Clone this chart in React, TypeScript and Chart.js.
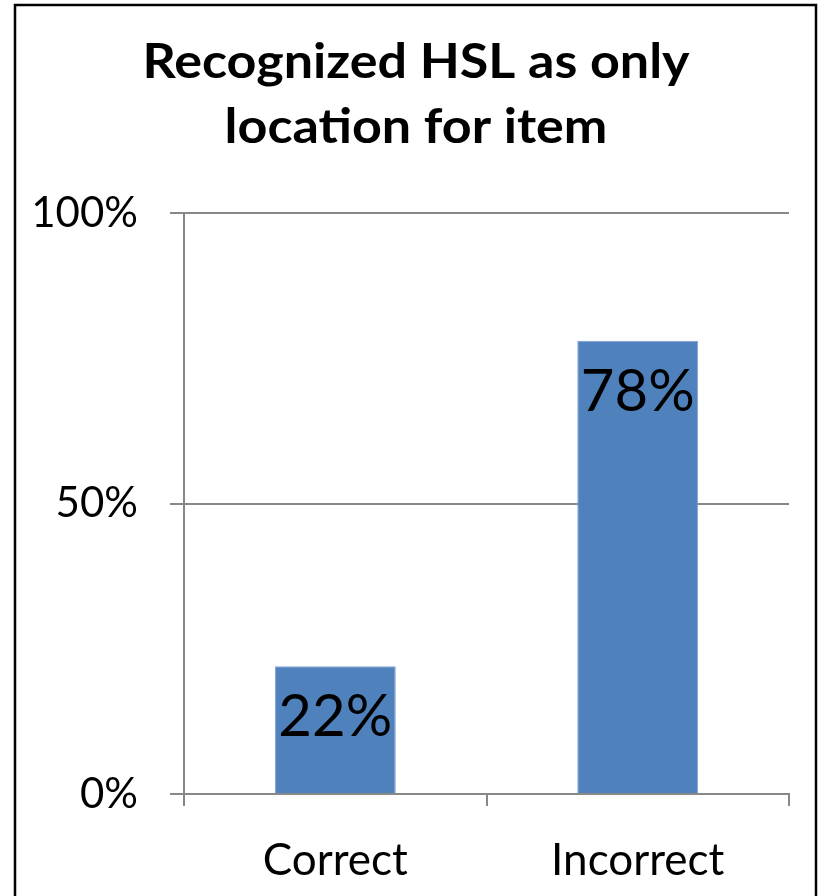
import React, { useEffect, useRef } from "react";
import { Chart, registerables } from "chart.js";

Chart.register(...registerables);

const categories = ["Correct", "Incorrect"];
const values = [22, 78];
const yTicks = [0, 50, 100];
const titleLines = ["Recognized HSL as only", "location for item"];

const FONT = "Lato, 'Open Sans', sans-serif";

export default function App() {
  const ref = useRef<HTMLCanvasElement | null>(null);

  useEffect(() => {
    if (!ref.current) return;
    const frame = {
      id: "frame",
      afterDraw(chart: any) {
        const ctx = chart.ctx;
        ctx.save();
        ctx.strokeStyle = "#000";
        ctx.lineWidth = 2.5;
        ctx.beginPath();
        ctx.moveTo(15, 905);
        ctx.lineTo(15, 5);
        ctx.lineTo(816, 5);
        ctx.lineTo(816, 905);
        ctx.stroke();
        ctx.restore();
      },
    };
    const titlePlugin = {
      id: "titleText",
      afterDraw(chart: any) {
        const ctx = chart.ctx;
        ctx.save();
        ctx.fillStyle = "#000";
        ctx.font = `bold 47px ${FONT}`;
        ctx.textAlign = "center";
        ctx.textBaseline = "alphabetic";
        const w = ctx.measureText(titleLines[0]).width;
        const sx = 547 / w;
        titleLines.forEach((t, i) => {
          ctx.save();
          ctx.translate(416, 78 + i * 65);
          ctx.scale(sx, 1);
          ctx.fillText(t, 0, 0);
          ctx.restore();
        });
        ctx.restore();
      },
    };
    const labels = {
      id: "barLabels",
      afterDatasetsDraw(chart: any) {
        const ctx = chart.ctx;
        const meta = chart.getDatasetMeta(0);
        ctx.save();
        ctx.fillStyle = "#000";
        ctx.font = `58px ${FONT}`;
        ctx.textAlign = "center";
        ctx.textBaseline = "alphabetic";
        meta.data.forEach((bar: any, i: number) => {
          ctx.fillText(values[i] + "%", bar.x, bar.y + 70);
        });
        ctx.restore();
      },
    };
    const chart = new Chart(ref.current, {
      type: "bar",
      data: {
        labels: categories,
        datasets: [
          {
            data: values,
            backgroundColor: "#4F81BD",
            borderColor: "#7FA3D3",
            borderWidth: 1,
            barPercentage: 0.4,
            categoryPercentage: 1,
          },
        ],
      },
      options: {
        animation: false,
        responsive: false,
        layout: { padding: { top: 213, left: 0, right: 32, bottom: 0 } },
        plugins: { legend: { display: false }, tooltip: { enabled: false }, title: { display: false } },
        scales: {
          x: {
            afterFit(scale: any) {
              scale.height = 102;
            },
            grid: {
              offset: true,
              drawOnChartArea: false,
              drawTicks: true,
              tickLength: 12,
              color: "#888888",
              lineWidth: 2,
            },
            border: { display: true, color: "#888888", width: 2 },
            ticks: {
              color: "#000",
              font: { family: FONT, size: 44 },
              padding: 28,
            },
          },
          y: {
            min: 0,
            max: 100,
            afterBuildTicks(scale: any) {
              scale.ticks = yTicks.map((v) => ({ value: v }));
            },
            afterFit(scale: any) {
              scale.width = 184;
            },
            grid: {
              color: "#888888",
              lineWidth: 2,
              drawTicks: true,
              tickLength: 14,
            },
            border: { display: true, color: "#888888", width: 2 },
            ticks: {
              color: "#000",
              font: { family: FONT, size: 42 },
              padding: 32,
              callback: (v: any) => v + "%",
            },
          },
        },
      },
      plugins: [frame, titlePlugin, labels],
    });
    return () => chart.destroy();
  }, []);

  return (
    <div style={{ position: "fixed", left: 0, top: 0, width: 821, height: 896, background: "#fff" }}>
      <canvas ref={ref} width={821} height={896} style={{ display: "block" }} />
    </div>
  );
}
